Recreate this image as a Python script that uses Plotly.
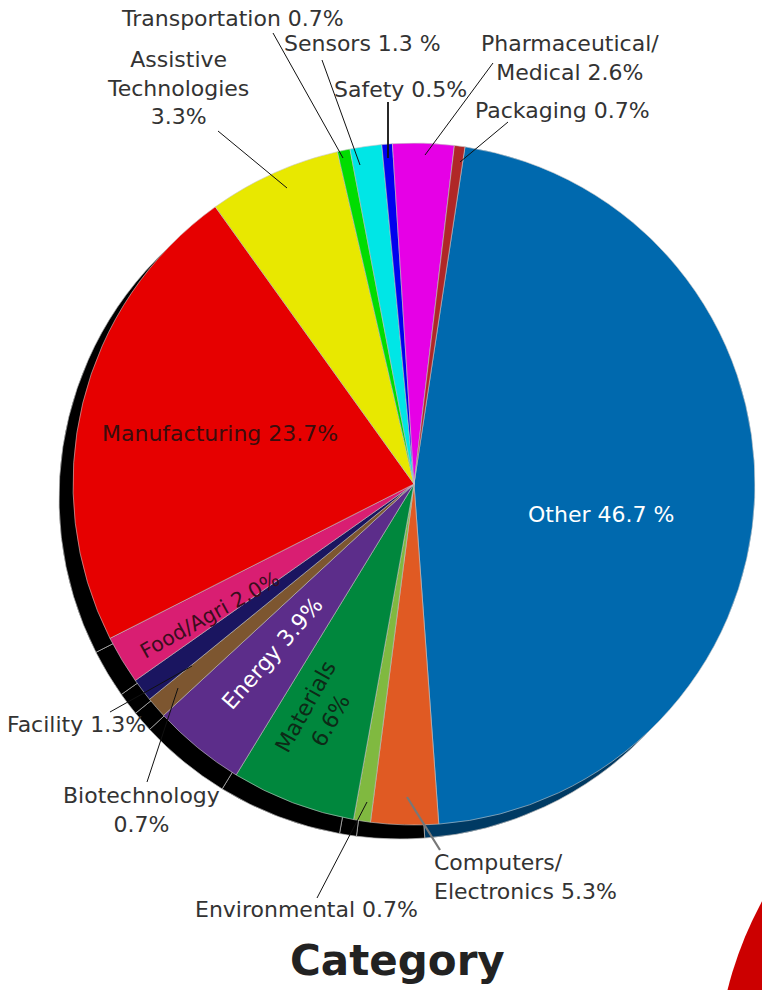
import plotly.graph_objects as go

# ---- data (clockwise from the top, as drawn) ----
categories = ["Other", "Computers/Electronics", "Environmental", "Materials", "Energy",
              "Biotechnology", "Facility", "Food/Agri", "Manufacturing",
              "Assistive Technologies", "Transportation", "Sensors", "Safety",
              "Pharmaceutical/Medical", "Packaging"]
# slice sizes as drawn in the picture (percent of the circle)
slice_size = [46.5, 3.2, 0.8, 5.9, 4.4, 1.0, 1.1, 2.3, 22.6, 6.3, 0.6, 1.5, 0.5, 2.9, 0.5]
# percentages as printed on the labels
printed_pct = ["46.7 %", "5.3%", "0.7%", "6.6%", "3.9%", "0.7%", "1.3%", "2.0%", "23.7%",
               "3.3%", "0.7%", "1.3 %", "0.5%", "2.6%", "0.7%"]
title_text = "Category"

colors = ["#0069AE", "#E05A23", "#80B940", "#00873D", "#5C2D8A", "#7D5630", "#1A1560",
          "#D91E72", "#E60000", "#E8E800", "#00DD00", "#00E6E6", "#0000EE", "#E600E6", "#B02727"]
shadow_colors = ["#003A63"] + ["#000000"] * (len(categories) - 1)

W, H = 762, 990


def px(x):
    return x / W


def py(y):
    return 1 - y / H


# main pie: centre (414, 484), radius 341 px
cx, cy, r = 414, 484, 341
sx, sy = -14, 14  # shadow offset

fig = go.Figure()
fig.add_trace(go.Pie(
    labels=categories, values=slice_size, sort=False, direction="clockwise", rotation=8.6,
    marker=dict(colors=shadow_colors, line=dict(color="#b8b8b8", width=0.7)),
    textinfo="none", hoverinfo="skip", showlegend=False,
    domain=dict(x=[px(cx + sx - r), px(cx + sx + r)], y=[py(cy + sy + r), py(cy + sy - r)]),
))
fig.add_trace(go.Pie(
    labels=categories, values=slice_size, sort=False, direction="clockwise", rotation=8.6,
    marker=dict(colors=colors, line=dict(color="#c8c8c8", width=0.6)),
    textinfo="none", showlegend=False,
    domain=dict(x=[px(cx - r), px(cx + r)], y=[py(cy + r), py(cy - r)]),
))

FONT = "DejaVu Sans"
dark = "#333333"
FS = 22
idx = {c: i for i, c in enumerate(categories)}


def lab(cat, name=None):
    return (name if name is not None else cat) + " " + printed_pct[idx[cat]]


annotations = []


def add_text(text, x, y, size=FS, color=dark, angle=0, xanchor="center", align="center"):
    annotations.append(dict(text=text, x=px(x), y=py(y), xref="paper", yref="paper",
                            showarrow=False, xanchor=xanchor, yanchor="middle", align=align,
                            textangle=angle, font=dict(family=FONT, size=size, color=color)))


# inside labels
add_text(lab("Other"), 601, 514, color="white")
add_text(lab("Manufacturing"), 220, 433, color="#3a0d0d")
add_text(lab("Food/Agri"), 210, 615, size=20.5, color="#3a0d1d", angle=-29)
add_text(lab("Energy"), 272, 653, color="white", angle=-49)
add_text("Materials<br>" + printed_pct[idx["Materials"]], 318, 714, color="#0d2a17", angle=-61)

# outside labels
add_text(lab("Transportation"), 233, 18)
add_text(lab("Sensors"), 362, 44)
add_text(lab("Safety"), 400, 89)
add_text("Pharmaceutical/<br>Medical " + printed_pct[idx["Pharmaceutical/Medical"]], 570, 58)
add_text(lab("Packaging"), 562, 111)
add_text("Assistive<br>Technologies<br>" + printed_pct[idx["Assistive Technologies"]], 178, 88)
add_text(lab("Facility"), 76, 724)
add_text("Biotechnology<br>" + printed_pct[idx["Biotechnology"]], 141, 810)
add_text(lab("Environmental"), 306, 909)
add_text("Computers/<br>Electronics " + printed_pct[idx["Computers/Electronics"]], 432, 877,
         xanchor="left", align="left")

annotations.append(dict(text="<b>" + title_text + "</b>", x=px(397), y=py(960), xref="paper",
                        yref="paper", showarrow=False, xanchor="center", yanchor="middle",
                        font=dict(family=FONT, size=42, color="#222222")))

# leader lines (label -> slice)
leaders = [
    ((273, 33), (343, 158), "#111111", 1),
    ((322, 60), (360, 165), "#111111", 1),
    ((388, 102), (388, 158), "#111111", 1.8),
    ((493, 63), (425, 155), "#111111", 1),
    ((508, 122), (460, 162), "#111111", 1),
    ((218, 131), (287, 188), "#111111", 1),
    ((110, 712), (192, 666), "#111111", 1),
    ((147, 782), (178, 688), "#111111", 1),
    ((317, 898), (367, 802), "#111111", 1),
    ((440, 850), (407, 797), "#777777", 2.2),
]
shapes = []
for (x0, y0), (x1, y1), col, wd in leaders:
    shapes.append(dict(type="line", xref="paper", yref="paper", x0=px(x0), y0=py(y0),
                       x1=px(x1), y1=py(y1), line=dict(color=col, width=wd), layer="above"))

# neighbouring chart's red disc peeking in at bottom-right
shapes.append(dict(type="circle", xref="paper", yref="paper",
                   x0=px(1098 - 382), x1=px(1098 + 382), y0=py(1083 + 382), y1=py(1083 - 382),
                   fillcolor="#CC0000", line=dict(width=0), layer="below"))

fig.update_layout(width=W, height=H, margin=dict(l=0, r=0, t=0, b=0),
                  paper_bgcolor="white", plot_bgcolor="white",
                  annotations=annotations, shapes=shapes, showlegend=False)

fig.write_html("out.html", config={"displayModeBar": False},
               post_script="document.body.style.margin='0';document.body.style.overflow='hidden';")
